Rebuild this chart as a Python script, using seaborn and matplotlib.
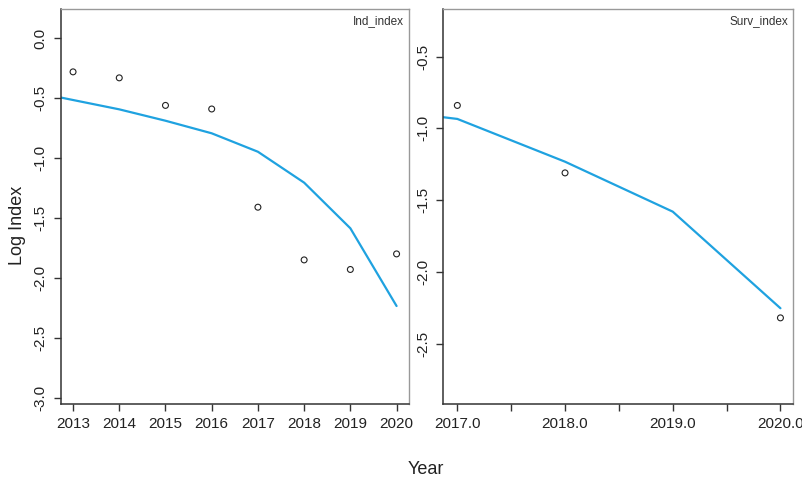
import matplotlib
matplotlib.use("Agg")
import matplotlib.pyplot as plt
import seaborn as sns
import pandas as pd
from matplotlib.ticker import MultipleLocator, FormatStrFormatter

# observed indices and fitted values (log scale)
ind_years = [2013, 2014, 2015, 2016, 2017, 2018, 2019, 2020]
ind_obs = [-0.28, -0.33, -0.56, -0.59, -1.41, -1.85, -1.93, -1.80]
ind_fit_years = [2012, 2013, 2014, 2015, 2016, 2017, 2018, 2019, 2020]
ind_fit = [-0.437, -0.515, -0.593, -0.688, -0.793, -0.947, -1.205, -1.586, -2.235]

surv_years = [2017, 2018, 2020]
surv_obs = [-0.84, -1.31, -2.32]
surv_fit_years = [2016, 2017, 2018, 2019, 2020]
surv_fit = [-0.843, -0.934, -1.232, -1.58, -2.253]

line_color = '#1fa2e0'

sns.set_style("white")
plt.rcParams['font.family'] = ['Liberation Sans', 'DejaVu Sans']

fig = plt.figure(figsize=(8.03, 4.83), dpi=100)
ax1 = fig.add_axes([0.0760, 0.1636, 0.4334, 0.8178])
ax2 = fig.add_axes([0.5521, 0.1636, 0.4359, 0.8178])


def draw_panel(ax, years, obs, fit_years, fit, label):
    fit_df = pd.DataFrame({'Year': fit_years, 'Fit': fit})
    obs_df = pd.DataFrame({'Year': years, 'Obs': obs})
    sns.lineplot(data=fit_df, x='Year', y='Fit', ax=ax, color=line_color, linewidth=1.6)
    sns.scatterplot(data=obs_df, x='Year', y='Obs', ax=ax, marker='o', s=18,
                    facecolor='none', edgecolor='#222222', linewidth=0.8, zorder=3)
    ax.set_xlabel('')
    ax.set_ylabel('')
    ax.text(0.985, 0.985, label, transform=ax.transAxes, ha='right', va='top',
            fontsize=8.5, color='#333333')
    for side in ['left', 'bottom']:
        ax.spines[side].set_color('#333333')
        ax.spines[side].set_linewidth(1.1)
    for side in ['top', 'right']:
        ax.spines[side].set_color('#999999')
        ax.spines[side].set_linewidth(1.0)
    ax.tick_params(axis='both', which='both', direction='out', length=5, width=1,
                   color='#333333', labelsize=11, labelcolor='#222222', pad=4.5,
                   left=True, bottom=True)


draw_panel(ax1, ind_years, ind_obs, ind_fit_years, ind_fit, 'Ind_index')
ax1.set_xlim(2012.74, 2020.27)
ax1.set_ylim(-3.053, 0.245)
ax1.set_xticks(ind_years)
ax1.set_xticklabels([str(y) for y in ind_years])
ax1.set_yticks([0.0, -0.5, -1.0, -1.5, -2.0, -2.5, -3.0])
ax1.yaxis.set_major_formatter(FormatStrFormatter('%.1f'))

draw_panel(ax2, surv_years, surv_obs, surv_fit_years, surv_fit, 'Surv_index')
ax2.set_xlim(2016.87, 2020.12)
ax2.set_ylim(-2.92, -0.168)
ax2.set_xticks([2017, 2018, 2019, 2020])
ax2.xaxis.set_major_formatter(FormatStrFormatter('%.1f'))
ax2.xaxis.set_minor_locator(MultipleLocator(0.5))
ax2.set_yticks([-0.5, -1.0, -1.5, -2.0, -2.5])
ax2.yaxis.set_major_formatter(FormatStrFormatter('%.1f'))

for ax in (ax1, ax2):
    for lbl in ax.get_yticklabels():
        lbl.set_rotation(90)
        lbl.set_va('center')

fig.text(17 / 803, 1 - 225 / 483, 'Log Index', rotation=90, ha='center', va='center',
         fontsize=13, color='#222222')
fig.text(426 / 803, 1 - 470 / 483, 'Year', ha='center', va='center',
         fontsize=13, color='#222222')

fig.savefig('out.png', dpi=100)
